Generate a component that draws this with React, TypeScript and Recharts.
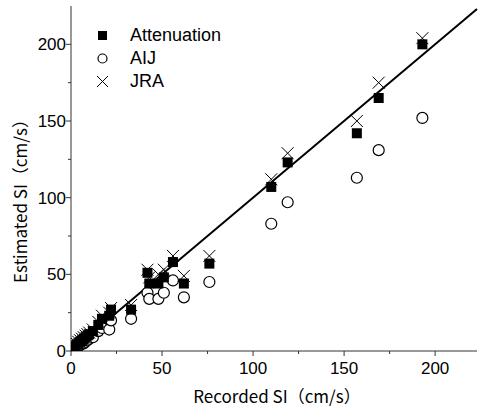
import React from 'react';
import {
  ScatterChart,
  Scatter,
  XAxis,
  YAxis,
  ReferenceLine,
} from 'recharts';

// recorded SI at each station (cm/s)
const recorded = [1, 2, 3, 4, 5, 6, 7, 8, 9, 10, 12, 15, 17, 21, 22, 33, 42, 43, 48, 51, 56, 62, 76, 110, 119, 157, 169, 193];
// estimated SI by each method (cm/s)
const attenuation = [2, 3, 4, 5, 6, 7, 8, 9, 10, 11, 13, 17, 21, 23, 27, 27, 51, 44, 44, 48, 58, 44, 57, 107, 123, 142, 165, 200];
const aij = [1, 2, 2, 3, 4, 5, 5, 6, 7, 8, 9, 13, 15, 14, 20, 21, 38, 34, 34, 38, 46, 35, 45, 83, 97, 113, 131, 152];
const jra = [2, 3, 5, 6, 7, 8, 9, 10, 11, 12, 14, 19, 23, 25, 28, 30, 53, 48, 50, 53, 62, 49, 62, 112, 129, 150, 175, 204];

const xTicks = [0, 25, 50, 75, 100, 125, 150, 175, 200];
const yTicks = [0, 25, 50, 75, 100, 125, 150, 175, 200];
const seriesNames = ['Attenuation', 'AIJ', 'JRA'];

const AXIS = '#333';
const NUM_FONT = '"Liberation Sans", Arial, sans-serif';
const LABEL_FONT = '"Noto Sans CJK JP", "Liberation Sans", sans-serif';

const toPoints = (ys: number[]) => recorded.map((x, i) => ({ x, y: ys[i] }));

const Square = (props: any) => {
  const { cx, cy } = props;
  return <rect x={cx - 5} y={cy - 5} width={10} height={10} fill="#000" />;
};

const Ring = (props: any) => {
  const { cx, cy } = props;
  return <circle cx={cx} cy={cy} r={5.5} fill="#fff" stroke="#000" strokeWidth={1.2} />;
};

const Cross = (props: any) => {
  const { cx, cy } = props;
  return (
    <path
      d={`M${cx - 6},${cy - 6}L${cx + 6},${cy + 6}M${cx - 6},${cy + 6}L${cx + 6},${cy - 6}`}
      stroke="#000"
      strokeWidth={1}
      fill="none"
    />
  );
};

const XTick = ({ x, y, payload }: any) => {
  const major = payload.value % 50 === 0;
  return (
    <g>
      <line x1={x} x2={x} y1={y} y2={y + (major ? 5 : 3)} stroke={AXIS} />
      {major && (
        <text x={x} y={y + 23} textAnchor="middle" fontSize={17} fontFamily={NUM_FONT} fill="#000">
          {payload.value}
        </text>
      )}
    </g>
  );
};

const YTick = ({ x, y, payload }: any) => {
  const major = payload.value % 50 === 0;
  return (
    <g>
      <line x1={x} x2={x - (major ? 5 : 3)} y1={y} y2={y} stroke={AXIS} />
      {major && (
        <text x={x - 5} y={y + 6} textAnchor="end" fontSize={17} fontFamily={NUM_FONT} fill="#000">
          {payload.value}
        </text>
      )}
    </g>
  );
};

const legendMarker = (name: string) => {
  if (name === 'Attenuation') return <rect x={4} y={4} width={9} height={9} fill="#000" />;
  if (name === 'AIJ') return <circle cx={8.5} cy={8.5} r={4.5} fill="#fff" stroke="#000" strokeWidth={1.2} />;
  return <path d="M3,3L14,14M3,14L14,3" stroke="#000" strokeWidth={1} />;
};

export default function App() {
  return (
    <div style={{ position: 'absolute', left: 0, top: 0, width: 478, height: 410, background: '#fff' }}>
      <ScatterChart width={478} height={410} margin={{ top: 6, right: 1, bottom: 0, left: 0 }}>
        <XAxis
          type="number"
          dataKey="x"
          domain={[0, 223]}
          ticks={xTicks}
          allowDataOverflow
          height={59}
          stroke={AXIS}
          tickLine={false}
          tickSize={0}
          tickMargin={0}
          tick={<XTick />}
          label={{
            content: () => (
              <text x={277} y={403} textAnchor="middle" fontSize={17} fontFamily={LABEL_FONT} fill="#000">
                Recorded SI（cm/s）
              </text>
            ),
          }}
        />
        <YAxis
          type="number"
          dataKey="y"
          domain={[0, 225]}
          ticks={yTicks}
          allowDataOverflow
          width={71}
          stroke={AXIS}
          tickLine={false}
          tickSize={0}
          tickMargin={0}
          tick={<YTick />}
          label={{
            content: () => (
              <text
                x={19}
                y={197}
                transform="rotate(-90 19 197)"
                textAnchor="middle"
                dominantBaseline="central"
                fontSize={17}
                fontFamily={LABEL_FONT}
                fill="#000"
              >
                Estimated SI（cm/s）
              </text>
            ),
          }}
        />
        <ReferenceLine
          segment={[{ x: 0, y: 0 }, { x: 223, y: 223 }]}
          stroke="#000"
          strokeWidth={2}
        />
        <Scatter name="AIJ" data={toPoints(aij)} shape={<Ring />} isAnimationActive={false} />
        <Scatter name="Attenuation" data={toPoints(attenuation)} shape={<Square />} isAnimationActive={false} />
        <Scatter name="JRA" data={toPoints(jra)} shape={<Cross />} isAnimationActive={false} />
      </ScatterChart>
      <div style={{ position: 'absolute', left: 94, top: 24, fontFamily: NUM_FONT, fontSize: 18 }}>
        {seriesNames.map((name) => (
          <div key={name} style={{ display: 'flex', alignItems: 'center', height: 23 }}>
            <svg width={17} height={17}>{legendMarker(name)}</svg>
            <span style={{ marginLeft: 19 }}>{name}</span>
          </div>
        ))}
      </div>
    </div>
  );
}
